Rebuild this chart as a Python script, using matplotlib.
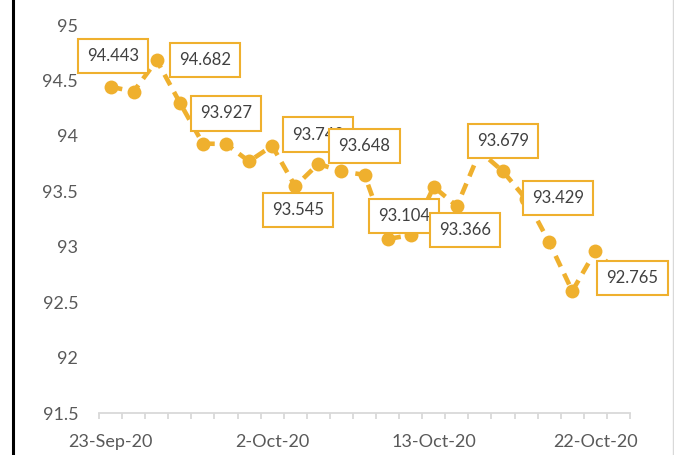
import pandas as pd
import matplotlib.pyplot as plt
from matplotlib.lines import Line2D

# Trading days, 23-Sep-20 to 23-Oct-20
dates = pd.bdate_range("2020-09-23", "2020-10-23")
date_labels = [f"{d.day}-{d.strftime('%b-%y')}" for d in dates]

values = [94.443, 94.40, 94.682, 94.30, 93.93, 93.927, 93.77, 93.91, 93.545,
          93.748, 93.68, 93.648, 93.07, 93.104, 93.54, 93.366, 93.86, 93.679,
          93.429, 93.04, 92.60, 92.96, 92.765]

# which points carry a data label, and where the box sits (offset in points)
labelled = [0, 2, 5, 8, 9, 11, 13, 15, 17, 18, 22]
label_offsets = [(2, 22), (35, 0), (0, 22), (2, -17), (0, 21), (0, 21),
                 (-5, 14), (6, -17), (0, 22), (23, 1), (10, -4)]

gold = "#EFB02E"
grey = "#595959"

plt.rcParams["font.family"] = ["Lato", "DejaVu Sans"]

fig = plt.figure(figsize=(6.74, 4.55), dpi=100)
ax = fig.add_axes([99 / 674, 1 - 413 / 455, (630 - 99) / 674, (413 - 25) / 455])

x = list(range(len(values)))
ax.plot(x, values, color=gold, lw=3.3, linestyle=(0, (2.6, 1.7)),
        marker="o", markersize=10, markeredgewidth=0, zorder=3,
        solid_capstyle="butt", dash_capstyle="butt")

for i, (dx, dy) in zip(labelled, label_offsets):
    ax.annotate(f"{values[i]:.3f}", xy=(i, values[i]), xytext=(dx, dy),
                textcoords="offset points", ha="center", va="center",
                fontsize=12, color="#404040", zorder=5,
                bbox=dict(boxstyle="square,pad=0.55", fc="white", ec=gold, lw=1.5))

ax.set_xlim(-0.5, len(values) - 0.5)
ax.set_ylim(91.5, 95)
ax.set_yticks([91.5, 92, 92.5, 93, 93.5, 94, 94.5, 95])
ax.set_yticklabels(["91.5", "92", "92.5", "93", "93.5", "94", "94.5", "95"])

ax.set_xticks([0, 7, 14, 21])
ax.set_xticklabels([date_labels[i] for i in [0, 7, 14, 21]])
ax.set_xticks([k - 0.5 for k in range(len(values) + 1)], minor=True)

for s in ["top", "right", "left"]:
    ax.spines[s].set_visible(False)
ax.spines["bottom"].set_color("#D9D9D9")
ax.spines["bottom"].set_linewidth(1.3)

ax.tick_params(axis="x", which="major", length=0, pad=15, labelsize=13, labelcolor=grey)
ax.tick_params(axis="x", which="minor", length=4.5, width=1.3, color="#D9D9D9")
ax.tick_params(axis="y", length=0, pad=15, labelsize=13, labelcolor=grey)

# chart frame edges visible in the crop
fig.add_artist(Line2D([13 / 674, 13 / 674], [0, 1], color="black", lw=2.2))
fig.add_artist(Line2D([672.5 / 674, 672.5 / 674], [0, 1], color="#D9D9D9", lw=1))

plt.savefig("out.png", dpi=100)
